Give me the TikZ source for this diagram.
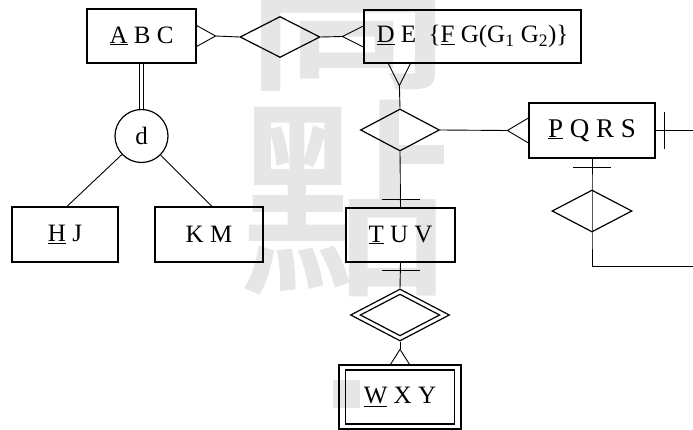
\documentclass[tikz,border=0pt]{standalone}
\usepackage{fontspec}
\setmainfont{Liberation Serif}
\newfontfamily\cjk{Noto Sans CJK TC}[FakeBold=2]
\usetikzlibrary{shapes.geometric,calc}

\definecolor{wmgray}{RGB}{230,230,230}

\tikzset{
  ent/.style={draw, rectangle, line width=1.2pt, inner sep=0pt,
              font=\fontsize{25}{30}\selectfont},
  rel/.style={draw, diamond, line width=1.2pt, inner sep=0pt},
  conn/.style={line width=0.9pt},
  wmark/.style={text=wmgray, inner sep=0pt, font=\cjk\fontsize{210}{210}\selectfont},
}

\begin{document}
\begin{tikzpicture}[x=1pt, y=-1pt]
\useasboundingbox (0,0) rectangle (693,430);

% background watermark
\node[wmark] (wmA) at (348,-8) {高};
\node[wmark] (wmB) at (345,198) {點};
\fill[wmgray] (333,380) rectangle (360,408);

% entities
\node[ent, minimum width=109pt, minimum height=54pt] (abc) at (141.5,36) {\underline{A} B C};
\node[ent, minimum width=217pt, minimum height=53pt] (de) at (472.5,36.5)
  {\underline{D} E \ \{\underline{F} G(G\textsubscript{1} G\textsubscript{2})\}};
\node[ent, minimum width=106pt, minimum height=55pt] (hj) at (65,234.5) {\underline{H} J};
\node[ent, minimum width=108pt, minimum height=55pt] (km) at (209,234.5) {K M};
\node[ent, minimum width=126pt, minimum height=55pt, font=\fontsize{27}{32}\selectfont]
  (pqrs) at (592,130.5) {\underline{P} Q R S};
\node[ent, minimum width=109pt, minimum height=54pt] (tuv) at (400.5,235) {\underline{T} U V};

% weak entity (double border)
\node[ent, minimum width=122pt, minimum height=64pt] (wxy) at (400,397) {};
\node[ent, minimum width=109pt, minimum height=54pt] (wxyin) at (400,397) {\underline{W} X Y};

% relationships
\node[rel, minimum width=80pt, minimum height=41pt] (r1) at (280,37) {};
\node[rel, minimum width=79pt, minimum height=42pt] (r2) at (400,130) {};
\node[rel, minimum width=80pt, minimum height=42pt] (r3) at (592,211) {};
\node[rel, minimum width=99pt, minimum height=52pt] (r4) at (400,315) {};
\node[rel, minimum width=79.6pt, minimum height=41.8pt] (r4in) at (400,315) {};

% specialization circle
\node[draw, circle, line width=1.2pt, minimum size=53pt, inner sep=0pt,
      font=\fontsize{25}{30}\selectfont] (dj) at (141.5,136) {d};

% ABC -- R1 (many at ABC)
\draw[conn] (r1.west) -- ($(abc.east)+(19,0)$) coordinate (cf1);
\draw[conn] ($(abc.east)+(0,-10.5)$) -- (cf1) -- ($(abc.east)+(0,10.5)$);

% R1 -- DE (many at DE)
\draw[conn] (r1.east) -- ($(de.west)+(-21,0)$) coordinate (cf2);
\draw[conn] ($(de.west)+(0,-10.5)$) -- (cf2) -- ($(de.west)+(0,10.5)$);

% DE -- R2 (many at DE)
\coordinate (deb) at ($(de.south west)+(36,0)$);
\coordinate (cf3) at ($(deb)+(0,22)$);
\draw[conn] (cf3) -- (r2.north);
\draw[conn] ($(deb)+(-11,0)$) -- (cf3) -- ($(deb)+(11,0)$);

% R2 -- PQRS (many at PQRS)
\draw[conn] (r2.east) -- ($(pqrs.west)+(-21,0)$) coordinate (cf4);
\draw[conn] ($(pqrs.west)+(0,-12.5)$) -- (cf4) -- ($(pqrs.west)+(0,12.5)$);

% PQRS -- outgoing line on the right (one)
\coordinate (outA) at (693,130.5);
\draw[conn] (pqrs.east) -- (outA);
\draw[conn] ($(pqrs.east)+(9,-18.5)$) -- ($(pqrs.east)+(9,18.5)$);

% PQRS -- R3 and onward (one at PQRS)
\coordinate (outB) at (693,266);
\draw[conn] (pqrs.south) -- (r3.north) -- (r3.south) |- (outB);
\draw[conn] ($(pqrs.south)+(-19,9)$) -- ($(pqrs.south)+(19,9)$);

% R2 -- TUV (one at TUV)
\draw[conn] (r2.south) -- (tuv.north);
\draw[conn] ($(tuv.north)+(-19,-8)$) -- ($(tuv.north)+(19,-8)$);

% TUV -- R4 (one at TUV)
\draw[conn] (tuv.south) -- (r4.north);
\draw[conn] ($(tuv.south)+(-19,8)$) -- ($(tuv.south)+(19,8)$);

% R4 -- WXY (many at WXY)
\coordinate (cf5) at ($(wxy.north)+(0,-15)$);
\draw[conn] (r4.south) -- (cf5);
\draw[conn] ($(wxy.north)+(-9.5,0)$) -- (cf5) -- ($(wxy.north)+(9.5,0)$);

% specialization
\draw[line width=0.9pt, double, double distance=2.4pt] (abc.south) -- (dj.north);
\draw[conn] (dj) -- ($(hj.north)+(2,0)$);
\draw[conn] (dj) -- ($(km.north)+(3,0)$);
\end{tikzpicture}
\end{document}
